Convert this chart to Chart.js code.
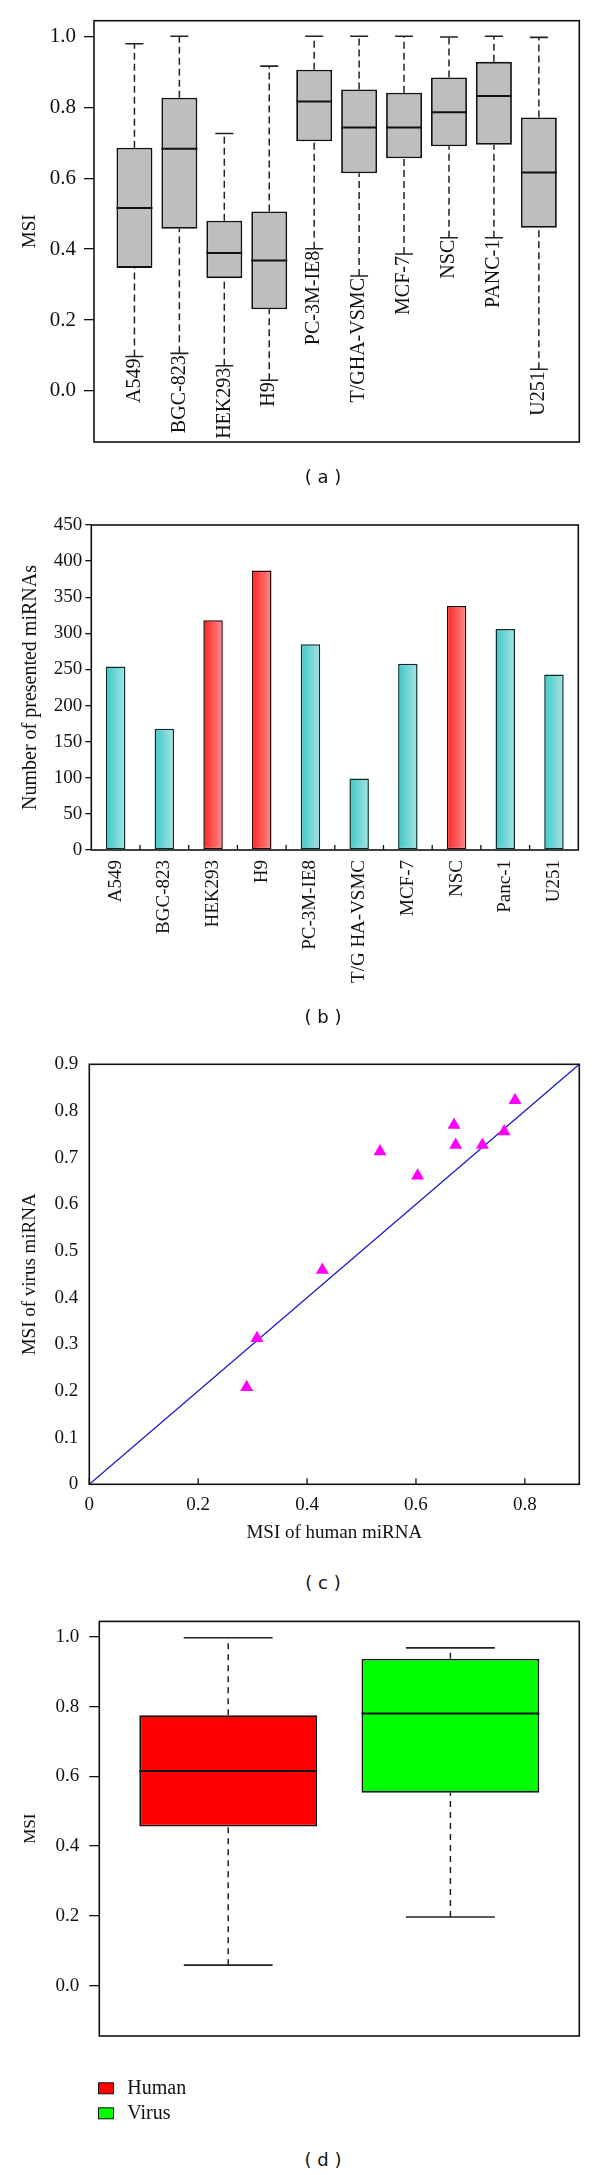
<!DOCTYPE html>
<html>
<head>
<meta charset="utf-8">
<script src="https://cdn.jsdelivr.net/npm/chart.js@4.4.1/dist/chart.umd.min.js"></script>
<style>
  html, body { margin: 0; padding: 0; background: #fff; }
  body { width: 600px; height: 2175px; position: relative; overflow: hidden; }
  canvas { position: absolute; left: 0; }
  .tag { position: absolute; left: 0; width: 646px; height: 22px; line-height: 22px;
         text-align: center; font: 18px "DejaVu Sans", sans-serif; color: #111; }
</style>
</head>
<body>
<canvas id="chartA" width="600" height="500" style="top:0;width:600px;height:500px"></canvas>
<div class="tag" style="top:466px">( a )</div>
<canvas id="chartB" width="600" height="500" style="top:500px;width:600px;height:500px"></canvas>
<div class="tag" style="top:1006px">( b )</div>
<canvas id="chartC" width="600" height="510" style="top:1040px;width:600px;height:510px"></canvas>
<div class="tag" style="top:1572px">( c )</div>
<canvas id="chartD" width="600" height="540" style="top:1600px;width:600px;height:540px"></canvas>
<div class="tag" style="top:2149px">( d )</div>

<script>
// ---- (a) MSI per cell line ----
const cellLines = ['A549', 'BGC-823', 'HEK293', 'H9', 'PC-3M-IE8', 'T/GHA-VSMC', 'MCF-7', 'NSC', 'PANC-1', 'U251'];
const msiLower  = [0.097, 0.106, 0.071, 0.030, 0.401, 0.324, 0.386, 0.432, 0.432, 0.061];
const msiQ1     = [0.347, 0.457, 0.318, 0.230, 0.704, 0.614, 0.656, 0.690, 0.694, 0.460];
const msiMedian = [0.516, 0.683, 0.389, 0.368, 0.816, 0.743, 0.743, 0.786, 0.832, 0.616];
const msiQ3     = [0.686, 0.827, 0.480, 0.506, 0.906, 0.850, 0.841, 0.884, 0.928, 0.771];
const msiUpper  = [0.979, 1.000, 0.726, 0.916, 1.000, 1.000, 1.000, 0.998, 1.000, 0.997];

// ---- (b) number of presented miRNAs ----
const barLabels = ['A549', 'BGC-823', 'HEK293', 'H9', 'PC-3M-IE8', 'T/G HA-VSMC', 'MCF-7', 'NSC', 'Panc-1', 'U251'];
const miRNACounts = [254, 168, 318, 387, 285, 99, 258, 338, 306, 243];
const redBars = ['HEK293', 'H9', 'NSC'];

// ---- (c) human vs virus MSI ----
const humanMSI = [0.289, 0.308, 0.428, 0.534, 0.603, 0.670, 0.673, 0.722, 0.762, 0.782];
const virusMSI = [0.208, 0.313, 0.459, 0.713, 0.661, 0.770, 0.727, 0.727, 0.756, 0.823];
const diagonal = [0, 0.9];

// ---- (d) human vs virus boxes ----
const groups = ['Human', 'Virus'];
const groupLower  = [0.059, 0.197];
const groupQ1     = [0.456, 0.553];
const groupMedian = [0.615, 0.780];
const groupQ3     = [0.775, 0.937];
const groupUpper  = [0.997, 0.968];
const groupColors = ['#ff0000', '#00ff00'];

const SERIF = "'Liberation Serif', 'Times New Roman', serif";
const INK = '#111';

Chart.defaults.color = INK;
Chart.defaults.font.family = SERIF;

const framePlugin = {
  id: 'frame',
  afterDraw(chart) {
    const { ctx, chartArea: a } = chart;
    ctx.save();
    ctx.strokeStyle = INK;
    ctx.lineWidth = 1.6;
    ctx.strokeRect(a.left, a.top, a.right - a.left, a.bottom - a.top);
    ctx.restore();
  }
};

// pixel length of a span of x units
const unitPx = (chart, units) => {
  const xs = chart.scales.x;
  const v = Math.abs(xs.getPixelForValue(1 + units) - xs.getPixelForValue(1));
  return isFinite(v) ? v : 0;
};

function boxDatasets(lo, q1, med, q3, hi, fill, dash) {
  const whiskers = [];
  const caps = [];
  lo.forEach((v, i) => {
    const x = i + 1;
    whiskers.push({ x, y: v }, { x, y: q1[i] }, { x, y: null }, { x, y: q3[i] }, { x, y: hi[i] }, { x, y: null });
    caps.push({ x, y: v }, { x, y: hi[i] });
  });
  return [
    {
      type: 'bar', order: 2,
      data: q1.map((v, i) => ({ x: i + 1, y: [v, q3[i]] })),
      backgroundColor: fill, borderColor: INK, borderWidth: 1.8, borderSkipped: false,
      barPercentage: 0.8, categoryPercentage: 1
    },
    {
      type: 'scatter', order: 1,
      data: med.map((v, i) => ({ x: i + 1, y: v })),
      pointStyle: 'line', pointRadius: c => unitPx(c.chart, 0.4), pointHoverRadius: c => unitPx(c.chart, 0.4),
      pointBorderColor: INK, pointBorderWidth: 2
    },
    {
      type: 'scatter', order: 1,
      data: caps,
      pointStyle: 'line', pointRadius: c => unitPx(c.chart, 0.2), pointHoverRadius: c => unitPx(c.chart, 0.2),
      pointBorderColor: '#222', pointBorderWidth: 1.6
    },
    {
      type: 'line', order: 3,
      data: whiskers, spanGaps: false,
      borderColor: '#222', borderWidth: 1.5, borderDash: dash, pointRadius: 0
    }
  ];
}

const common = {
  responsive: false, animation: false, devicePixelRatio: 1,
  plugins: { legend: { display: false }, tooltip: { enabled: false } }
};

// ================= (a) =================
new Chart(document.getElementById('chartA'), {
  type: 'bar',
  data: { datasets: boxDatasets(msiLower, msiQ1, msiMedian, msiQ3, msiUpper, '#bebebe', [7, 4]) },
  options: {
    ...common,
    layout: { padding: { left: 0, right: 20.7, top: 20.7, bottom: 58 } },
    scales: {
      x: { type: 'linear', min: 0.1, max: 10.9, offset: false, display: false,
           ticks: { stepSize: 1, includeBounds: false } },
      y: {
        min: -0.144, max: 1.044,
        afterFit: s => { s.width = 94; },
        ticks: { stepSize: 0.2, includeBounds: false, padding: 8, font: { size: 21 }, callback: v => v.toFixed(1) },
        grid: { drawOnChartArea: false, drawTicks: true, tickLength: 10, color: INK, lineWidth: 1.3 },
        border: { display: false },
        title: { display: true, text: 'MSI', font: { size: 19 }, padding: { top: 19.1, bottom: 0 } }
      }
    }
  },
  plugins: [framePlugin, {
    id: 'cellNames',
    afterDatasetsDraw(chart) {
      const { ctx, scales: { x, y } } = chart;
      ctx.save();
      ctx.font = '20px ' + SERIF;
      ctx.fillStyle = INK;
      ctx.textAlign = 'right';
      ctx.textBaseline = 'middle';
      cellLines.forEach((name, i) => {
        ctx.save();
        ctx.translate(x.getPixelForValue(i + 1), y.getPixelForValue(msiLower[i]) + 2);
        ctx.rotate(-Math.PI / 2);
        ctx.fillText(name, 0, 0);
        ctx.restore();
      });
      ctx.restore();
    }
  }]
});

// ================= (b) =================
function barFill(c) {
  const chart = c.chart, xs = chart.scales.x;
  const name = barLabels[c.dataIndex];
  const red = redBars.includes(name);
  const flat = red ? '#ff5050' : '#60d0d0';
  if (!xs || c.dataIndex === undefined) return flat;
  const cx = xs.getPixelForValue(c.dataIndex);
  const half = xs.width / barLabels.length * 0.4 / 2;
  if (!isFinite(cx) || !isFinite(half) || half <= 0) return flat;
  const g = chart.ctx.createLinearGradient(cx - half, 0, cx + half, 0);
  if (red) {
    g.addColorStop(0, '#ff2222');
    g.addColorStop(1, '#ff8c8c');
  } else {
    g.addColorStop(0, '#3ec8c8');
    g.addColorStop(1, '#a6e5e3');
  }
  return g;
}

new Chart(document.getElementById('chartB'), {
  type: 'bar',
  data: {
    labels: barLabels,
    datasets: [{
      data: miRNACounts,
      backgroundColor: barFill,
      borderColor: c => redBars.includes(barLabels[c.dataIndex]) ? '#2a0606' : '#0c2c2c',
      borderWidth: 1.5, borderSkipped: false,
      barPercentage: 0.4, categoryPercentage: 1
    }]
  },
  options: {
    ...common,
    layout: { padding: { left: 0, right: 21.7, top: 25, bottom: 0 } },
    scales: {
      x: {
        afterFit: s => { s.height = 150; },
        ticks: { autoSkip: false, minRotation: 90, maxRotation: 90, padding: 10, font: { size: 19 } },
        grid: { display: false, drawTicks: false },
        border: { display: false }
      },
      y: {
        min: 0, max: 450,
        afterFit: s => { s.width = 91.3; },
        ticks: { stepSize: 50, padding: 3, font: { size: 19 } },
        grid: { drawOnChartArea: false, drawTicks: true, tickLength: 6, color: INK, lineWidth: 1.3 },
        border: { display: false },
        title: { display: true, text: 'Number of presented miRNAs', font: { size: 20 }, padding: { top: 18.5, bottom: 0 } }
      }
    }
  },
  plugins: [framePlugin, {
    id: 'boundaryTicks',
    afterDraw(chart) {
      const { ctx, chartArea: a, scales: { x } } = chart;
      ctx.save();
      ctx.strokeStyle = INK;
      ctx.lineWidth = 1.3;
      for (let i = 1; i < barLabels.length; i++) {
        const px = (x.getPixelForValue(i - 1) + x.getPixelForValue(i)) / 2;
        ctx.beginPath();
        ctx.moveTo(px, a.bottom);
        ctx.lineTo(px, a.bottom - 5);
        ctx.stroke();
      }
      ctx.restore();
    }
  }]
});

// ================= (c) =================
new Chart(document.getElementById('chartC'), {
  type: 'scatter',
  data: {
    datasets: [
      {
        order: 1,
        data: humanMSI.map((h, i) => ({ x: h, y: virusMSI[i] })),
        pointStyle: 'triangle', pointRadius: 7.5, pointHoverRadius: 7.5,
        pointBackgroundColor: '#ff00ff', pointBorderWidth: 0
      },
      {
        order: 2,
        data: diagonal.map(v => ({ x: v, y: v })),
        showLine: true, borderColor: '#1414c8', borderWidth: 1.3, pointRadius: 0
      }
    ]
  },
  options: {
    ...common,
    layout: { padding: { left: 0, right: 20.7, top: 24.3, bottom: 0 } },
    scales: {
      x: {
        type: 'linear', min: 0, max: 0.9,
        afterFit: s => { s.height = 65.7; },
        ticks: { stepSize: 0.2, includeBounds: false, padding: 9, font: { size: 19 } },
        grid: { display: false, drawTicks: false },
        border: { display: false },
        title: { display: true, text: 'MSI of human miRNA', font: { size: 19 }, padding: { top: 0, bottom: 5.6 } }
      },
      y: {
        min: 0, max: 0.9,
        afterFit: s => { s.width = 89.3; },
        ticks: { stepSize: 0.1, padding: 11, font: { size: 19 } },
        grid: { display: false, drawTicks: false },
        border: { display: false },
        title: { display: true, text: 'MSI of virus miRNA', font: { size: 19 }, padding: { top: 19.1, bottom: 0 } }
      }
    }
  },
  plugins: [framePlugin, {
    id: 'innerTicks',
    afterDraw(chart) {
      const { ctx, chartArea: a, scales: { x } } = chart;
      ctx.save();
      ctx.strokeStyle = INK;
      ctx.lineWidth = 1.3;
      x.ticks.forEach(t => {
        const px = x.getPixelForValue(t.value);
        ctx.beginPath();
        ctx.moveTo(px, a.bottom);
        ctx.lineTo(px, a.bottom - 6);
        ctx.stroke();
      });
      ctx.restore();
    }
  }]
});

// ================= (d) =================
new Chart(document.getElementById('chartD'), {
  type: 'bar',
  data: { datasets: boxDatasets(groupLower, groupQ1, groupMedian, groupQ3, groupUpper, groupColors, [6, 5]) },
  options: {
    ...common,
    layout: { padding: { left: 0, right: 20.7, top: 17.7, bottom: 104 } },
    scales: {
      x: { type: 'linear', min: 0.42, max: 2.58, offset: false, display: false,
           ticks: { stepSize: 1, includeBounds: false } },
      y: {
        min: -0.144, max: 1.044,
        afterFit: s => { s.width = 99.3; },
        ticks: { stepSize: 0.2, includeBounds: false, padding: 10, font: { size: 19 }, callback: v => v.toFixed(1) },
        grid: { drawOnChartArea: false, drawTicks: true, tickLength: 10, color: INK, lineWidth: 1.3 },
        border: { display: false },
        title: { display: true, text: 'MSI', font: { size: 17 }, padding: { top: 20.3, bottom: 0 } }
      }
    }
  },
  plugins: [framePlugin, {
    id: 'groupLegend',
    afterDraw(chart) {
      const { ctx, chartArea: a } = chart;
      ctx.save();
      ctx.font = '20px ' + SERIF;
      ctx.textBaseline = 'middle';
      ctx.textAlign = 'left';
      groups.forEach((g, i) => {
        const cy = a.bottom + 52.3 + i * 25;
        ctx.fillStyle = groupColors[i];
        ctx.fillRect(98.5, cy - 5.5, 15, 11);
        ctx.strokeStyle = INK;
        ctx.lineWidth = 1;
        ctx.strokeRect(98.5, cy - 5.5, 15, 11);
        ctx.fillStyle = INK;
        ctx.fillText(g, 127.3, cy);
      });
      ctx.restore();
    }
  }]
});
</script>
</body>
</html>
